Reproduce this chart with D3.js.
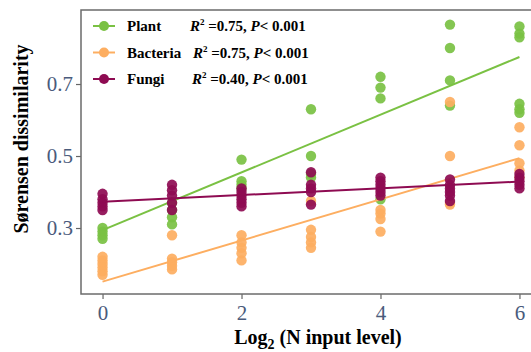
<!DOCTYPE html>
<html>
<head>
<meta charset="utf-8">
<script src="https://cdn.jsdelivr.net/npm/d3@7"></script>
<style>
  body { margin: 0; background: #fff; }
  svg { display: block; }
</style>
</head>
<body>
<div id="chart"></div>
<script>
// N input levels (log2) on the x axis
const xLevels = [0, 1, 2, 3, 4, 5, 6];

// replicate dissimilarity values per level
const plantValues = [
    [0.30, 0.29, 0.28, 0.27],
    [0.37, 0.35, 0.33, 0.31],
    [0.49, 0.43, 0.42, 0.41],
    [0.63, 0.50, 0.45, 0.44],
    [0.72, 0.69, 0.66, 0.38],
    [0.865, 0.80, 0.71, 0.64],
    [0.86, 0.84, 0.83, 0.645, 0.63, 0.62]
];
const bacteriaValues = [
    [0.22, 0.21, 0.20, 0.19, 0.18, 0.17],
    [0.28, 0.215, 0.205, 0.195, 0.185],
    [0.28, 0.26, 0.245, 0.23, 0.21],
    [0.375, 0.295, 0.275, 0.26, 0.245],
    [0.35, 0.34, 0.325, 0.29],
    [0.65, 0.50, 0.37, 0.365],
    [0.58, 0.53, 0.48, 0.46, 0.44]
];
const fungiValues = [
    [0.395, 0.38, 0.37, 0.36, 0.35],
    [0.42, 0.405, 0.39, 0.37, 0.35],
    [0.41, 0.40, 0.39, 0.38, 0.37, 0.36],
    [0.455, 0.42, 0.41, 0.40, 0.365],
    [0.44, 0.43, 0.42, 0.41, 0.40, 0.39],
    [0.435, 0.42, 0.41, 0.40, 0.39, 0.375],
    [0.45, 0.44, 0.43, 0.42, 0.41]
];

// fitted line values at x = 0 and x = 6
const plantFit = [0.294, 0.775];
const bacteriaFit = [0.151, 0.494];
const fungiFit = [0.373, 0.429];

const seriesNames = ["Plant", "Bacteria", "Fungi"];
const seriesStats = [["0.75", "0.001"], ["0.75", "0.001"], ["0.40", "0.001"]];
const xTicks = [0, 2, 4, 6];
const yTicks = [0.3, 0.5, 0.7];

const colors = ["#7ac143", "#fdae61", "#8e0b52"];

const series = [
    { name: seriesNames[0], values: plantValues, fit: plantFit, color: colors[0], stats: seriesStats[0] },
    { name: seriesNames[1], values: bacteriaValues, fit: bacteriaFit, color: colors[1], stats: seriesStats[1] },
    { name: seriesNames[2], values: fungiValues, fit: fungiFit, color: colors[2], stats: seriesStats[2] }
];

const width = 531, height = 352;
const margin = { top: 10, right: -10, bottom: 58, left: 81 };
const serif = "'Liberation Serif', 'Times New Roman', serif";

const svg = d3.select("#chart").append("svg")
    .attr("width", width)
    .attr("height", height);

const x = d3.scaleLinear()
    .domain([-0.31, 6.31])
    .range([margin.left, width - margin.right]);

const y = d3.scaleLinear()
    .domain([0.1167, 0.9056])
    .range([height - margin.bottom, margin.top]);

// axes
const xAxis = svg.append("g")
    .attr("transform", `translate(0, ${height - margin.bottom})`)
    .call(d3.axisBottom(x).tickValues(xTicks).tickSize(5).tickPadding(6).tickFormat(d3.format("d")));

const yAxis = svg.append("g")
    .attr("transform", `translate(${margin.left}, 0)`)
    .call(d3.axisLeft(y).tickValues(yTicks).tickSize(5).tickPadding(3).tickFormat(d3.format(".1f")));

[xAxis, yAxis].forEach(g => {
    g.select(".domain").remove();
    g.selectAll(".tick line").attr("stroke", "#666").attr("stroke-width", 1.2);
    g.selectAll(".tick text")
        .attr("fill", "#4a5b7c")
        .style("font-family", serif)
        .style("font-size", "21px");
});

// panel border
svg.append("rect")
    .attr("x", margin.left)
    .attr("y", margin.top)
    .attr("width", width - margin.right - margin.left)
    .attr("height", height - margin.bottom - margin.top)
    .attr("fill", "none")
    .attr("stroke", "#6b6b6b")
    .attr("stroke-width", 1.5);

// points and fitted lines
series.forEach(s => {
    const pts = [];
    s.values.forEach((vals, i) => vals.forEach(v => pts.push({ x: xLevels[i], y: v })));

    svg.append("g").selectAll("circle")
        .data(pts)
        .enter()
        .append("circle")
        .attr("cx", d => x(d.x))
        .attr("cy", d => y(d.y))
        .attr("r", 5.2)
        .attr("fill", s.color)
        .attr("fill-opacity", 0.92);

    const line = d3.line()
        .x(d => x(d[0]))
        .y(d => y(d[1]));

    svg.append("path")
        .datum([[xLevels[0], s.fit[0]], [xLevels[xLevels.length - 1], s.fit[1]]])
        .attr("d", line)
        .attr("fill", "none")
        .attr("stroke", s.color)
        .attr("stroke-width", 2);
});

// legend
const legend = svg.append("g");
series.forEach((s, i) => {
    const ly = 26 + i * 26.5;
    legend.append("line")
        .attr("x1", 93).attr("x2", 115)
        .attr("y1", ly).attr("y2", ly)
        .attr("stroke", s.color)
        .attr("stroke-width", 2);
    legend.append("circle")
        .attr("cx", 104).attr("cy", ly)
        .attr("r", 5)
        .attr("fill", s.color);
    legend.append("text")
        .attr("x", 127).attr("y", ly + 5)
        .style("font-family", serif)
        .style("font-size", "15px")
        .style("font-weight", "bold")
        .text(s.name);

    const t = legend.append("text")
        .attr("x", [190, 193, 192][i]).attr("y", ly + 5)
        .style("font-family", serif)
        .style("font-size", "15px")
        .style("font-weight", "bold");
    t.append("tspan").style("font-style", "italic").text("R");
    t.append("tspan").attr("dy", -6).style("font-size", "9px").text("2");
    t.append("tspan").attr("dy", 6).text(` =${s.stats[0]}, `);
    t.append("tspan").style("font-style", "italic").text("P");
    t.append("tspan").text(`< ${s.stats[1]}`);
});

// axis titles
svg.append("text")
    .attr("x", 318)
    .attr("y", 344)
    .attr("text-anchor", "middle")
    .style("font-family", serif)
    .style("font-size", "20px")
    .style("font-weight", "bold")
    .call(t => {
        t.append("tspan").text("Log");
        t.append("tspan").attr("dy", 5).style("font-size", "14px").text("2");
        t.append("tspan").attr("dy", -5).text(" (N input level)");
    });

svg.append("text")
    .attr("transform", "translate(28, 139) rotate(-90)")
    .attr("text-anchor", "middle")
    .style("font-family", serif)
    .style("font-size", "20px")
    .style("font-weight", "bold")
    .text("Sørensen dissimilarity");
</script>
</body>
</html>
